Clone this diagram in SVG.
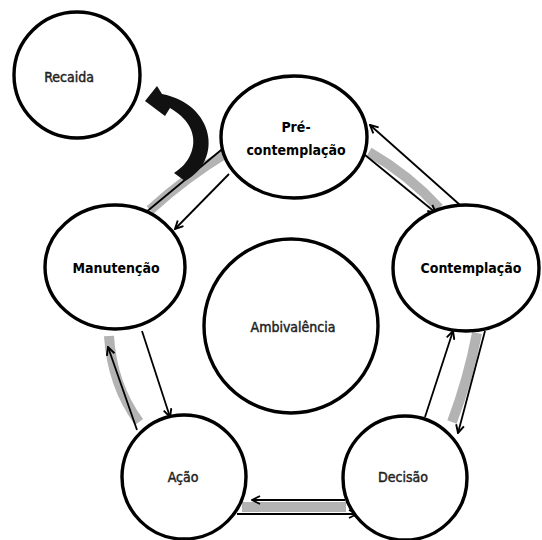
<svg xmlns="http://www.w3.org/2000/svg" width="542" height="540" viewBox="0 0 542 540">
<defs>
<style>
.node{fill:#fff;stroke:#000;stroke-width:3.4}
.lbl{font-family:"DejaVu Sans Condensed","DejaVu Sans","Liberation Sans",sans-serif;font-stretch:condensed;font-size:14px;fill:#222;stroke:#222;stroke-width:0.45;text-anchor:middle;dominant-baseline:central}
.b{font-weight:bold;fill:#000;stroke:none}
.ln{stroke:#000;stroke-width:1.8;fill:none;marker-end:url(#ah)}
.band{stroke:#b3b3b3;fill:none;stroke-width:10;stroke-linecap:butt}
</style>
<marker id="ah" viewBox="0 0 10 10" refX="9" refY="5" markerWidth="10" markerHeight="10" markerUnits="userSpaceOnUse" orient="auto">
<path d="M1,1 L9,5 L1,9" fill="none" stroke="#000" stroke-width="1.9"/>
</marker>
</defs>
<g id="connectors">
<path class="band" d="M369,152 Q409,175 439,208" stroke-width="9"/>
<path class="band" d="M477,333 Q468,380 452,422" stroke-width="11"/>
<path class="band" d="M242,507 L346,507" stroke-width="14"/>
<path class="band" d="M109,336 Q112,385 139,422"/>
<path class="band" d="M150,210 Q185,178 226,153"/>
<path class="ln" d="M460,205 L370,125"/>
<path class="ln" d="M365,155 L436,213"/>
<path class="ln" d="M485,331 L458,433"/>
<path class="ln" d="M425,417 L453,331"/>
<path class="ln" d="M345,500 L252,500" stroke-width="2.4"/>
<path class="ln" d="M237,514 L357,514" stroke-width="2.4"/>
<path class="ln" d="M137,430 L108,347"/>
<path class="ln" d="M142,331 L170,417"/>
<path class="ln" d="M145,213 L232,141"/>
<path class="ln" d="M229,174 L175,229"/>
<path d="M174,173 C196,160 205,128 170,108 L165,116 L145,101 L157,86 L162,94 C214,104 224,160 185,181 Z" fill="#111"/>
</g>
<g id="recaida">
<circle class="node" cx="77" cy="75" r="63"/>
<text class="lbl" x="69" y="77">Recaida</text>
</g>
<g id="pre-contemplacao">
<ellipse class="node" cx="294" cy="137" rx="73" ry="61"/>
<text class="lbl b" x="296" y="127">Pré-</text>
<text class="lbl b" x="296" y="150">contemplação</text>
</g>
<g id="contemplacao">
<ellipse class="node" cx="466" cy="268" rx="73" ry="63"/>
<text class="lbl b" x="471" y="268">Contemplação</text>
</g>
<g id="manutencao">
<ellipse class="node" cx="115" cy="267" rx="70" ry="62"/>
<text class="lbl b" x="116" y="268">Manutenção</text>
</g>
<g id="ambivalencia">
<circle class="node" cx="291" cy="326" r="87"/>
<text class="lbl" x="293" y="327">Ambivalência</text>
</g>
<g id="acao">
<circle class="node" cx="184" cy="477" r="62"/>
<text class="lbl" x="183" y="477">Ação</text>
</g>
<g id="decisao">
<circle class="node" cx="405" cy="478" r="62"/>
<text class="lbl" x="403" y="477">Decisão</text>
</g>
</svg>
